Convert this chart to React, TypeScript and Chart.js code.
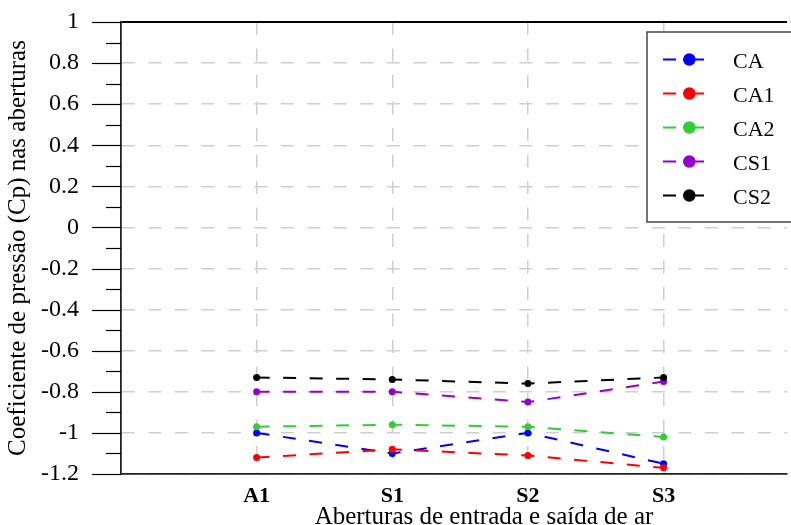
import React, { useEffect, useRef } from 'react';
import { Chart, registerables } from 'chart.js';

Chart.register(...registerables);

const categories = ['A1', 'S1', 'S2', 'S3'];
const seriesNames = ['CA', 'CA1', 'CA2', 'CS1', 'CS2'];
const CA = [-1.0, -1.1, -1.0, -1.15];
const CA1 = [-1.12, -1.08, -1.11, -1.17];
const CA2 = [-0.97, -0.96, -0.97, -1.02];
const CS1 = [-0.8, -0.8, -0.85, -0.75];
const CS2 = [-0.73, -0.74, -0.76, -0.73];
const seriesValues = [CA, CA1, CA2, CS1, CS2];
const seriesColors = ['#0000ff', '#ff0000', '#33cc33', '#9400d3', '#000000'];
const yMin = -1.2;
const yMax = 1;
const yStep = 0.2;
const xTitle = 'Aberturas de entrada e saída de ar';
const yTitle = 'Coeficiente de pressão (Cp) nas aberturas';

const SERIF = "'Liberation Serif', 'Times New Roman', serif";
const DASH = [13, 13.5];

const extrasPlugin = {
  id: 'extras',
  afterDraw(chart: any) {
    const { ctx, chartArea, scales } = chart;
    const y = scales.y;
    ctx.save();
    // y tick marks (major + minor)
    ctx.strokeStyle = '#000';
    ctx.lineWidth = 1.2;
    const n = Math.round((yMax - yMin) / (yStep / 2));
    for (let k = 0; k <= n; k++) {
      const v = yMin + (k * yStep) / 2;
      const py = Math.round(y.getPixelForValue(v)) + 0.5;
      const len = k % 2 === 0 ? 29 : 15;
      ctx.beginPath();
      ctx.moveTo(chartArea.left - len, py);
      ctx.lineTo(chartArea.left, py);
      ctx.stroke();
    }
    // x title
    ctx.fillStyle = '#000';
    ctx.font = `25px ${SERIF}`;
    ctx.textAlign = 'center';
    ctx.textBaseline = 'alphabetic';
    ctx.fillText(xTitle, 484, 524);

    // legend
    const bx = chartArea.right - 140;
    const by = chartArea.top + 10;
    const bw = 160;
    const bh = 190;
    ctx.fillStyle = '#fff';
    ctx.fillRect(bx, by, bw, bh);
    ctx.strokeStyle = '#444';
    ctx.lineWidth = 1.5;
    ctx.strokeRect(bx, by, bw, bh);
    ctx.font = `22px ${SERIF}`;
    ctx.textAlign = 'left';
    seriesNames.forEach((name, i) => {
      const cy = by + 27.5 + i * 34;
      const col = seriesColors[i];
      ctx.strokeStyle = col;
      ctx.lineWidth = 2;
      ctx.beginPath();
      ctx.moveTo(bx + 16, cy);
      ctx.lineTo(bx + 29, cy);
      ctx.moveTo(bx + 36, cy);
      ctx.lineTo(bx + 57, cy);
      ctx.stroke();
      ctx.fillStyle = col;
      ctx.beginPath();
      ctx.arc(bx + 42.3, cy, 6.2, 0, Math.PI * 2);
      ctx.fill();
      ctx.fillStyle = '#000';
      ctx.fillText(name, bx + 86, cy + 8.3);
    });
    ctx.restore();
  },
};

export default function App() {
  const ref = useRef<HTMLCanvasElement | null>(null);

  useEffect(() => {
    document.body.style.margin = '0';
    const canvas = ref.current;
    if (!canvas) return;
    const datasets = seriesNames.map((name, i) => ({
      label: name,
      data: seriesValues[i].map((v, j) => ({ x: j + 1, y: v })),
      borderColor: seriesColors[i],
      backgroundColor: seriesColors[i],
      borderWidth: 2,
      borderDash: DASH,
      pointRadius: 3.5,
      pointBorderWidth: 0,
      pointBackgroundColor: seriesColors[i],
      fill: false,
      tension: 0,
      order: -i,
    }));

    const chart = new Chart(canvas, {
      type: 'line',
      data: { datasets },
      plugins: [extrasPlugin],
      options: {
        animation: false,
        responsive: false,
        devicePixelRatio: 1,
        layout: { padding: { top: 22, right: 0, bottom: 0, left: 0 } },
        plugins: {
          legend: { display: false },
          tooltip: { enabled: false },
        },
        scales: {
          x: {
            type: 'linear',
            min: 0,
            max: 4.91,
            afterBuildTicks: (scale: any) => {
              scale.ticks = categories.map((_, i) => ({ value: i + 1 }));
            },
            afterFit: (scale: any) => {
              scale.height = 51;
            },
            ticks: {
              autoSkip: false,
              maxRotation: 0,
              padding: 9,
              color: '#000',
              font: { family: SERIF, size: 22, weight: 'bold' },
              callback: (v: any) => categories[Math.round(v) - 1] ?? '',
            },
            grid: {
              color: '#cfcfcf',
              lineWidth: 1.5,
              drawTicks: false,
            },
            border: { display: true, color: '#222', width: 1.8, dash: DASH },
          },
          y: {
            type: 'linear',
            min: yMin,
            max: yMax,
            afterFit: (scale: any) => {
              scale.width = 121;
            },
            ticks: {
              stepSize: yStep,
              padding: 4,
              color: '#000',
              font: { family: SERIF, size: 24 },
              callback: (v: any) => String(Number(Number(v).toFixed(1))),
            },
            grid: {
              color: (c: any) => (c.tick && Math.abs(c.tick.value - yMax) < 1e-6 ? '#000' : '#cfcfcf'),
              lineWidth: (c: any) => (c.tick && Math.abs(c.tick.value - yMax) < 1e-6 ? 2 : 1.5),
              drawTicks: true,
              tickLength: 38,
              tickWidth: 0,
              tickColor: 'rgba(0,0,0,0)',
            },
            border: {
              display: true,
              color: '#222',
              width: 1.8,
              dash: (c: any) => (c.tick && Math.abs(c.tick.value - yMax) < 1e-6 ? [] : DASH),
            },
            title: {
              display: true,
              text: yTitle,
              color: '#000',
              font: { family: SERIF, size: 25, lineHeight: 1.2 },
              padding: { top: 3, bottom: 0 },
            },
          },
        },
      } as any,
    });
    return () => chart.destroy();
  }, []);

  return (
    <div style={{ width: 791, height: 525 }}>
      <canvas ref={ref} width={791} height={525} style={{ display: 'block' }} />
    </div>
  );
}
